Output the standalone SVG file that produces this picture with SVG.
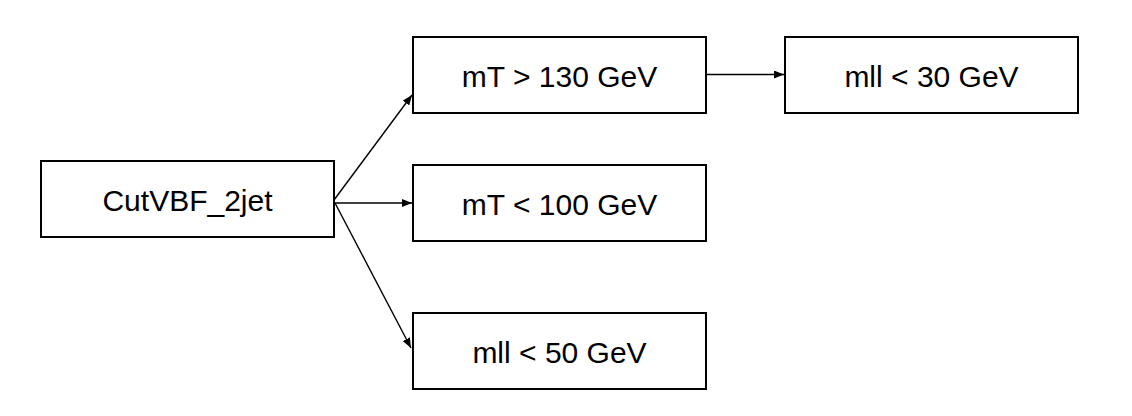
<svg xmlns="http://www.w3.org/2000/svg" width="1132" height="416" viewBox="0 0 1132 416">
<style>
.box{fill:#fff;stroke:#000;stroke-width:2}
.lbl{font-family:"Liberation Sans",Arial,sans-serif;font-size:30px;fill:#000;text-anchor:middle}
.edge{fill:none;stroke:#000;stroke-width:1.4}
</style>
<defs>
<marker id="ah" viewBox="0 0 10 8" refX="10" refY="4" markerWidth="10" markerHeight="8" markerUnits="userSpaceOnUse" orient="auto">
<path d="M0,0 L10,4 L0,8 Z" fill="#000"/>
</marker>
</defs>
<rect width="1132" height="416" fill="#fff"/>
<g id="connectors">
<line class="edge" x1="334" y1="200" x2="412" y2="95" marker-end="url(#ah)"/>
<line class="edge" x1="334" y1="203" x2="412" y2="203" marker-end="url(#ah)"/>
<line class="edge" x1="335" y1="203" x2="411" y2="348" marker-end="url(#ah)"/>
<line class="edge" x1="706" y1="74.5" x2="784" y2="74.5" marker-end="url(#ah)"/>
</g>
<g id="n_cutvbf">
<rect class="box" x="41" y="161" width="293" height="76"/>
<text class="lbl" x="187.5" y="211">CutVBF_2jet</text>
</g>
<g id="n_mt130">
<rect class="box" x="413" y="37" width="293" height="76"/>
<text class="lbl" x="559.5" y="87">mT &gt; 130 GeV</text>
</g>
<g id="n_mll30">
<rect class="box" x="785" y="37" width="293" height="76"/>
<text class="lbl" x="931.5" y="87">mll &lt; 30 GeV</text>
</g>
<g id="n_mt100">
<rect class="box" x="413" y="165" width="293" height="76"/>
<text class="lbl" x="559.5" y="215">mT &lt; 100 GeV</text>
</g>
<g id="n_mll50">
<rect class="box" x="413" y="313" width="293" height="76"/>
<text class="lbl" x="559.5" y="363">mll &lt; 50 GeV</text>
</g>
</svg>
